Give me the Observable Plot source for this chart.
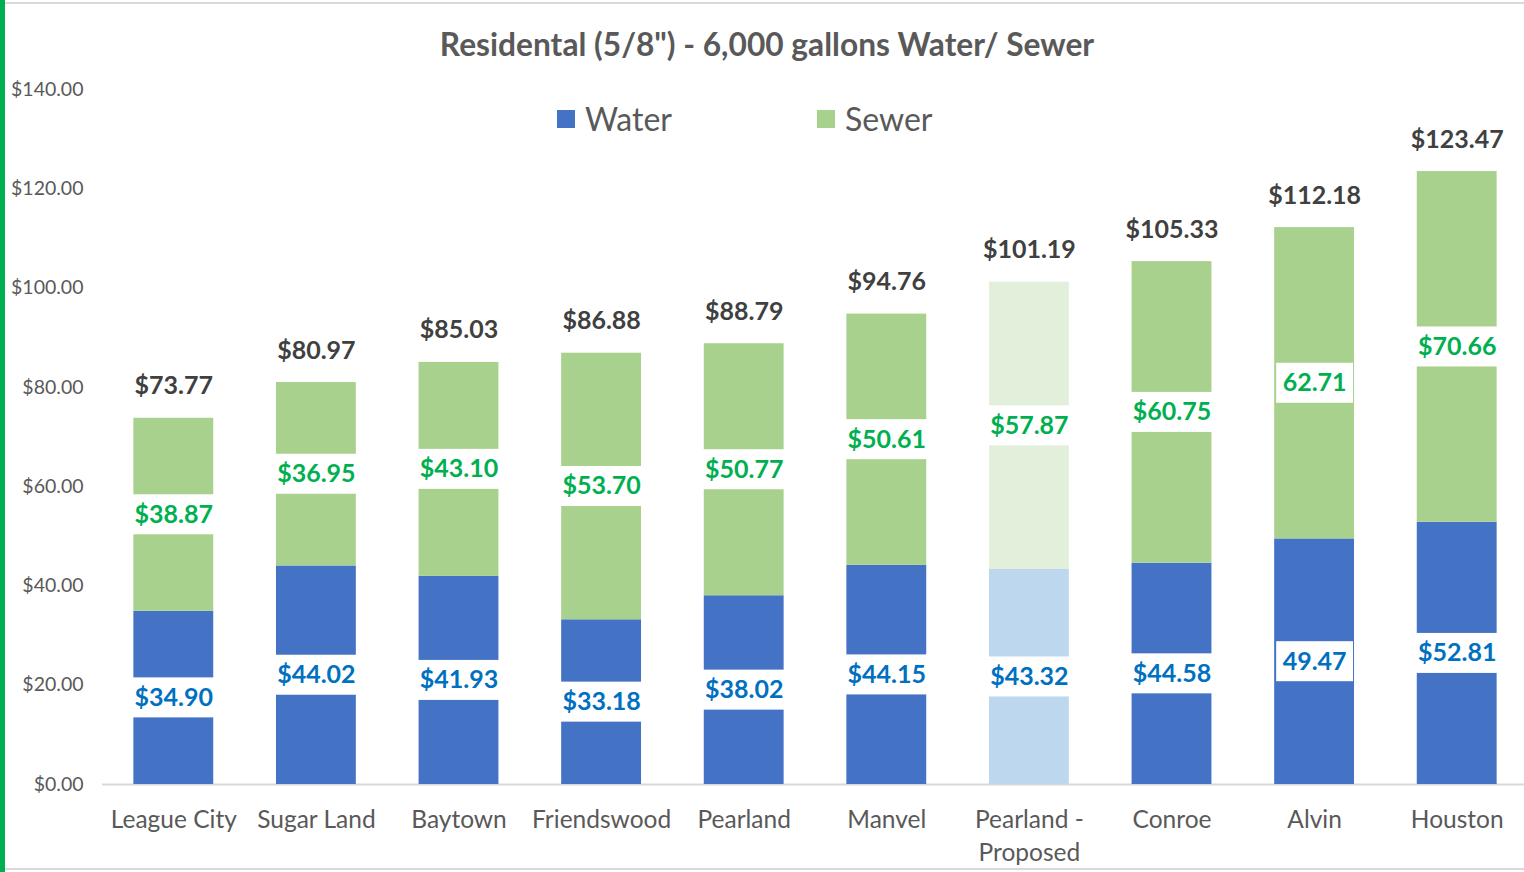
<!DOCTYPE html>
<html>
<head>
<meta charset="utf-8">
<script src="https://cdn.jsdelivr.net/npm/d3@7"></script>
<script src="https://cdn.jsdelivr.net/npm/@observablehq/plot@0.6"></script>
<style>
  html, body { margin: 0; padding: 0; background: #fff; }
  #wrap { position: relative; width: 1524px; height: 872px; overflow: hidden; font-family: Lato, "Open Sans", sans-serif; }
  #chart { position: absolute; left: 0; top: 0; }
  #title { position: absolute; left: 0; width: 1534px; top: 24px; text-align: center; font-weight: bold; font-size: 31.7px; color: #595959; line-height: 40px; }
  .leg { position: absolute; top: 100px; font-size: 32px; color: #595959; line-height: 38px; display: flex; align-items: center; }
  .sw { width: 18px; height: 18px; margin-right: 10px; }
  #lstrip { position: absolute; left: 0; top: 0; width: 5px; height: 872px; background: #00B050; }
  #topline { position: absolute; left: 5px; top: 2px; width: 1519px; height: 2px; background: #D9D9D9; }
  #botline { position: absolute; left: 5px; top: 868px; width: 1519px; height: 2px; background: #D9D9D9; }
</style>
</head>
<body>
<div id="wrap">
  <div id="chart"></div>
  <div id="title">Residental (5/8") - 6,000 gallons Water/ Sewer</div>
  <div class="leg" style="left:557px"><div class="sw" style="background:#4472C4"></div>Water</div>
  <div class="leg" style="left:817px"><div class="sw" style="background:#A9D18E"></div>Sewer</div>
  <div id="lstrip"></div>
  <div id="topline"></div>
  <div id="botline"></div>
</div>
<script>
const cities = ["League City", "Sugar Land", "Baytown", "Friendswood", "Pearland", "Manvel", "Pearland - Proposed", "Conroe", "Alvin", "Houston"];
const water = [34.90, 44.02, 41.93, 33.18, 38.02, 44.15, 43.32, 44.58, 49.47, 52.81];
const sewer = [38.87, 36.95, 43.10, 53.70, 50.77, 50.61, 57.87, 60.75, 62.71, 70.66];
const proposedCity = "Pearland - Proposed";
const noDollarCities = ["Alvin"];
const yTicks = [0, 20, 40, 60, 80, 100, 120, 140];

const seriesKeys = ["Water", "Sewer", "Water (proposed)", "Sewer (proposed)"];
const seriesColors = ["#4472C4", "#A9D18E", "#BDD7EE", "#E2EFDA"];

const rows = [];
cities.forEach((c, i) => {
  const prop = c === proposedCity;
  rows.push({city: c, type: "Water", key: prop ? "Water (proposed)" : "Water", value: water[i], mid: water[i] / 2});
  rows.push({city: c, type: "Sewer", key: prop ? "Sewer (proposed)" : "Sewer", value: sewer[i], mid: water[i] + sewer[i] / 2});
});
const totals = cities.map((c, i) => ({city: c, total: water[i] + sewer[i]}));
const fmt = d3.format("$.2f");
const labelText = d => noDollarCities.includes(d.city) ? d.value.toFixed(2) : fmt(d.value);
const font = "Lato, 'Open Sans', sans-serif";

const plot = Plot.plot({
  width: 1524,
  height: 872,
  marginLeft: 102,
  marginRight: 0,
  marginTop: 89,
  marginBottom: 88,
  style: {fontFamily: font, background: "transparent", overflow: "visible"},
  x: {domain: cities, range: [102, 1528], paddingInner: 0.44, paddingOuter: 0.22, round: false, label: null},
  y: {domain: [0, 140], range: [784, 89], label: null},
  color: {domain: seriesKeys, range: seriesColors},
  marks: [
    Plot.ruleY([0], {stroke: "#D9D9D9", strokeWidth: 2}),
    Plot.barY(rows, {x: "city", y: "value", fill: "key", order: null}),
    // white label boxes
    Plot.barY(rows.filter(d => !noDollarCities.includes(d.city)), {x: "city", y1: "mid", y2: "mid", fill: "white", insetTop: -20, insetBottom: -20, insetLeft: -3, insetRight: -3}),
    Plot.barY(rows.filter(d => noDollarCities.includes(d.city)), {x: "city", y1: "mid", y2: "mid", fill: "white", insetTop: -20, insetBottom: -20, insetLeft: 2, insetRight: 1}),
    Plot.text(rows, {x: "city", y: "mid", text: labelText, fill: d => d.type === "Water" ? "#0070C0" : "#00B050", fontWeight: "bold", fontSize: 25}),
    Plot.text(totals, {x: "city", y: "total", text: d => fmt(d.total), dy: -32, fill: "#404040", fontWeight: "bold", fontSize: 25}),
    Plot.axisY({ticks: yTicks, tickSize: 0, tickPadding: 19, tickFormat: d3.format("$.2f"), fontSize: 19.5, fill: "#595959", label: null}),
    Plot.axisX({tickSize: 0, tickPadding: 20, fontSize: 24.5, fill: "#595959", lineHeight: 1.35, tickFormat: d => d.replace(" - ", " -\n"), label: null})
  ]
});
document.getElementById("chart").appendChild(plot);
</script>
</body>
</html>
